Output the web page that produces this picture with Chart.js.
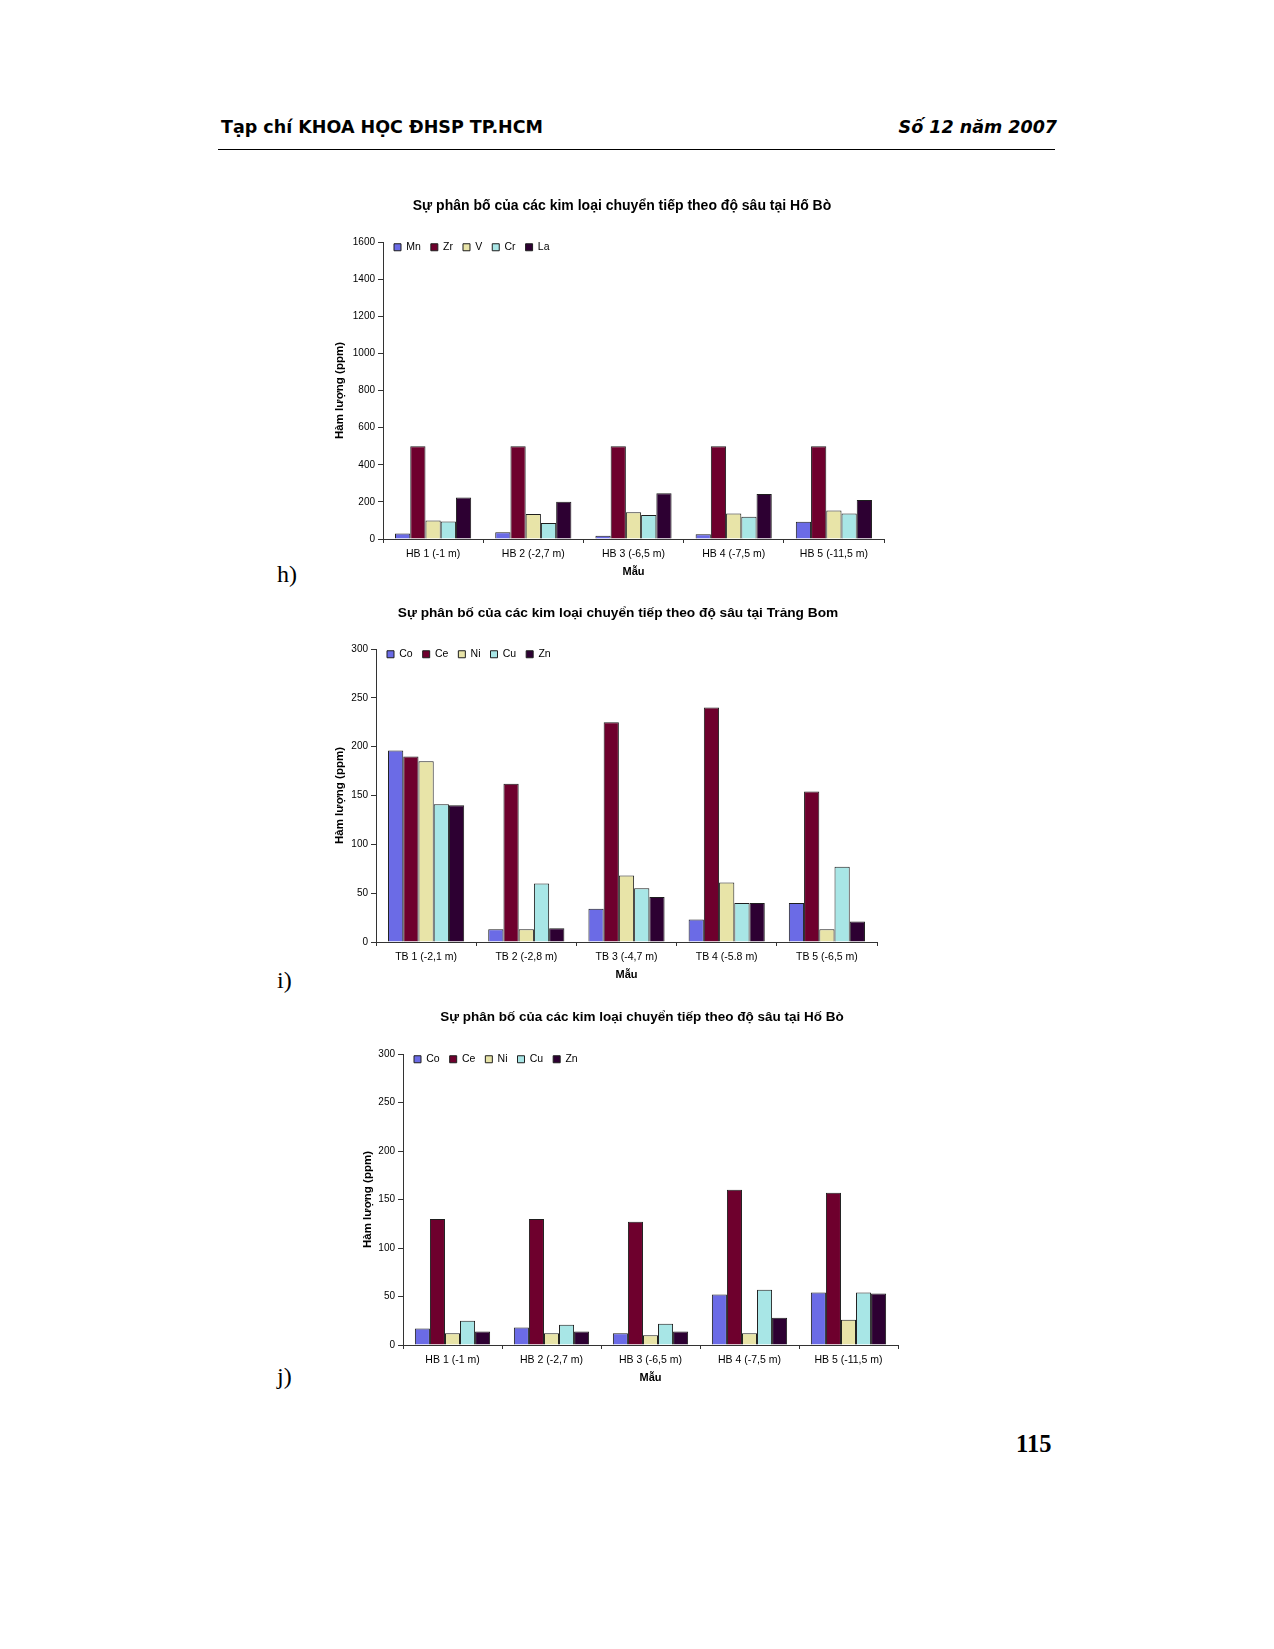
<!DOCTYPE html>
<html lang="vi">
<head>
<meta charset="utf-8">
<title>Sự phân bố của các kim loại chuyển tiếp theo độ sâu</title>
<script src="https://cdn.jsdelivr.net/npm/chart.js@4.4.1/dist/chart.umd.min.js"></script>
<style>
  html, body { margin: 0; padding: 0; background: #fff; }
  body { width: 1274px; height: 1649px; position: relative; overflow: hidden; }
  canvas { position: absolute; }
  .txt { position: absolute; white-space: nowrap; color: #000; }
  #hdrL { left: 221px; top: 117px; line-height: 20px; font: bold 17.5px "DejaVu Sans", sans-serif; }
  #hdrR { right: 217px; top: 117px; line-height: 20px; font: italic bold 17.5px "DejaVu Sans", sans-serif; }
  #rule { position: absolute; left: 218px; top: 149px; width: 837px; height: 0; border-top: 1.5px solid #000; }
  .panel { left: 277px; line-height: 24px; font: 24px "Liberation Serif", "Times New Roman", serif; }
  #pageNo { left: 1016px; top: 1430px; line-height: 24px; font: bold 24.5px "Liberation Serif", "Times New Roman", serif; }
</style>
</head>
<body>
<div class="txt" id="hdrL">Tạp chí KHOA HỌC ĐHSP TP.HCM</div>
<div class="txt" id="hdrR">Số 12 năm 2007</div>
<div id="rule"></div>

<canvas id="chartH"></canvas>
<div class="txt panel" style="top:561px">h)</div>

<canvas id="chartI"></canvas>
<div class="txt panel" style="top:967px">i)</div>

<canvas id="chartJ"></canvas>
<div class="txt panel" style="top:1363px">j)</div>

<div class="txt" id="pageNo">115</div>

<script>
// --- data ---
const samplesHB = ["HB 1 (-1 m)", "HB 2 (-2,7 m)", "HB 3 (-6,5 m)", "HB 4 (-7,5 m)", "HB 5 (-11,5 m)"];
const samplesTB = ["TB 1 (-2,1 m)", "TB 2 (-2,8 m)", "TB 3 (-4,7 m)", "TB 4 (-5.8 m)", "TB 5 (-6,5 m)"];

// h) Hố Bò
const metalsH = ["Mn", "Zr", "V", "Cr", "La"];
const hMn = [30, 36, 18, 25, 93];
const hZr = [500, 500, 500, 500, 500];
const hV = [99, 135, 144, 138, 153];
const hCr = [94, 86, 129, 120, 138];
const hLa = [223, 201, 246, 243, 210];

// i) Trảng Bom
const metalsIJ = ["Co", "Ce", "Ni", "Cu", "Zn"];
const iCo = [196, 13, 34, 23, 40];
const iCe = [190, 162, 225, 240, 154];
const iNi = [185, 13, 68, 61, 13];
const iCu = [141, 60, 55, 40, 77];
const iZn = [140, 14, 46, 40, 21];

// j) Hố Bò
const jCo = [17, 18, 12, 52, 54];
const jCe = [130, 130, 127, 160, 157];
const jNi = [12, 12, 10, 12, 26];
const jCu = [25, 21, 22, 57, 54];
const jZn = [14, 14, 14, 28, 53];

const yTicksH = { max: 1600, step: 200 };
const yTicksIJ = { max: 300, step: 50 };

// --- style ---
const colors = ["#6b6be6", "#6e002d", "#e8e4a8", "#a8e6e6", "#2d0032"];
Chart.defaults.font.family = '"Liberation Sans", Arial, sans-serif';
Chart.defaults.color = "#000";
Chart.defaults.animation = false;

// legend goes inside the plot (top-left); title is centred on a given x
const placeBoxes = {
  id: "placeBoxes",
  afterLayout(chart, args, opts) {
    const ca = chart.chartArea;
    const lg = chart.legend;
    if (lg) {
      const dx = ca.left + 1 - lg.left;
      const dy = ca.top - 10 - lg.top;
      lg.left += dx; lg.right += dx;
      lg.top += dy; lg.bottom += dy;
    }
    const tb = chart.titleBlock;
    if (tb && opts.titleX != null) {
      const dx = opts.titleX - (tb.left + tb.right) / 2;
      tb.left += dx; tb.right += dx;
    }
  }
};

function drawChart(id, lay, title, labels, names, series, yt) {
  const yWidth = 45, padR = 6;
  const regionL = lay.plotL - yWidth;
  const canvas = document.getElementById(id);
  canvas.width = lay.plotR + padR - lay.left;
  canvas.height = lay.plotB + 45 - lay.top;
  canvas.style.left = lay.left + "px";
  canvas.style.top = lay.top + "px";
  const titleLH = lay.titleSize * 1.2;

  const cfg = {
    type: "bar",
    data: {
      labels: labels,
      datasets: names.map((n, k) => ({
        label: n,
        data: series[k],
        backgroundColor: colors[k],
        borderColor: "#1e1e1e",
        borderWidth: 1,
        categoryPercentage: 0.76,
        barPercentage: 1
      }))
    },
    options: {
      responsive: false,
      animation: false,
      events: [],
      layout: { padding: { left: regionL - lay.left, right: padR, top: 0, bottom: 0 } },
      plugins: {
        placeBoxes: { titleX: lay.titleX - lay.left },
        title: {
          display: true,
          text: title,
          font: { size: lay.titleSize, weight: "bold" },
          padding: { top: lay.titleY - titleLH / 2 - lay.top, bottom: 20 }
        },
        legend: {
          position: "top",
          align: "start",
          labels: { boxWidth: 7, boxHeight: 7, padding: 10, font: { size: 10.5 } }
        },
        tooltip: { enabled: false }
      },
      scales: {
        x: {
          grid: { drawOnChartArea: false, drawTicks: true, tickLength: 4, color: "#333", offset: true },
          border: { color: "#333" },
          ticks: { font: { size: 10.5 }, padding: 5, maxRotation: 0, autoSkip: false },
          title: { display: true, text: "Mẫu", font: { size: 11, weight: "bold" }, padding: { top: 0, bottom: 5.4 } },
          afterFit: s => { s.height = 45; }
        },
        y: {
          min: 0,
          max: yt.max,
          grid: { drawOnChartArea: false, tickLength: 5, color: "#333" },
          border: { color: "#333" },
          ticks: { stepSize: yt.step, font: { size: 10 }, padding: 3, callback: v => String(v) },
          title: {
            display: true,
            text: "Hàm lượng (ppm)",
            font: { size: 11.5, weight: "bold" },
            padding: { top: lay.yTitleX - regionL - 6.9, bottom: 0 }
          },
          afterFit: s => { s.width = yWidth; }
        }
      }
    },
    plugins: [placeBoxes]
  };

  const chart = new Chart(canvas, cfg);
  const dt = (lay.plotT - lay.top) - chart.chartArea.top;
  if (Math.abs(dt) > 0.2) {
    chart.config.options.plugins.title.padding.bottom += dt;
    chart.update();
  }
  return chart;
}

drawChart("chartH",
  { left: 320, top: 186, plotL: 383, plotR: 884, plotT: 242, plotB: 539, titleX: 622, titleY: 206, titleSize: 14, yTitleX: 340 },
  "Sự phân bố của các kim loại chuyển tiếp theo độ sâu tại Hố Bò",
  samplesHB, metalsH, [hMn, hZr, hV, hCr, hLa], yTicksH);

drawChart("chartI",
  { left: 320, top: 590, plotL: 376, plotR: 877, plotT: 649, plotB: 942, titleX: 618, titleY: 613, titleSize: 13.7, yTitleX: 340 },
  "Sự phân bố của các kim loại chuyển tiếp theo độ sâu tại Trảng Bom",
  samplesTB, metalsIJ, [iCo, iCe, iNi, iCu, iZn], yTicksIJ);

drawChart("chartJ",
  { left: 340, top: 994, plotL: 403, plotR: 898, plotT: 1054, plotB: 1345, titleX: 642, titleY: 1017, titleSize: 13.5, yTitleX: 368 },
  "Sự phân bố của các kim loại chuyển tiếp theo độ sâu tại Hố Bò",
  samplesHB, metalsIJ, [jCo, jCe, jNi, jCu, jZn], yTicksIJ);
</script>
</body>
</html>
